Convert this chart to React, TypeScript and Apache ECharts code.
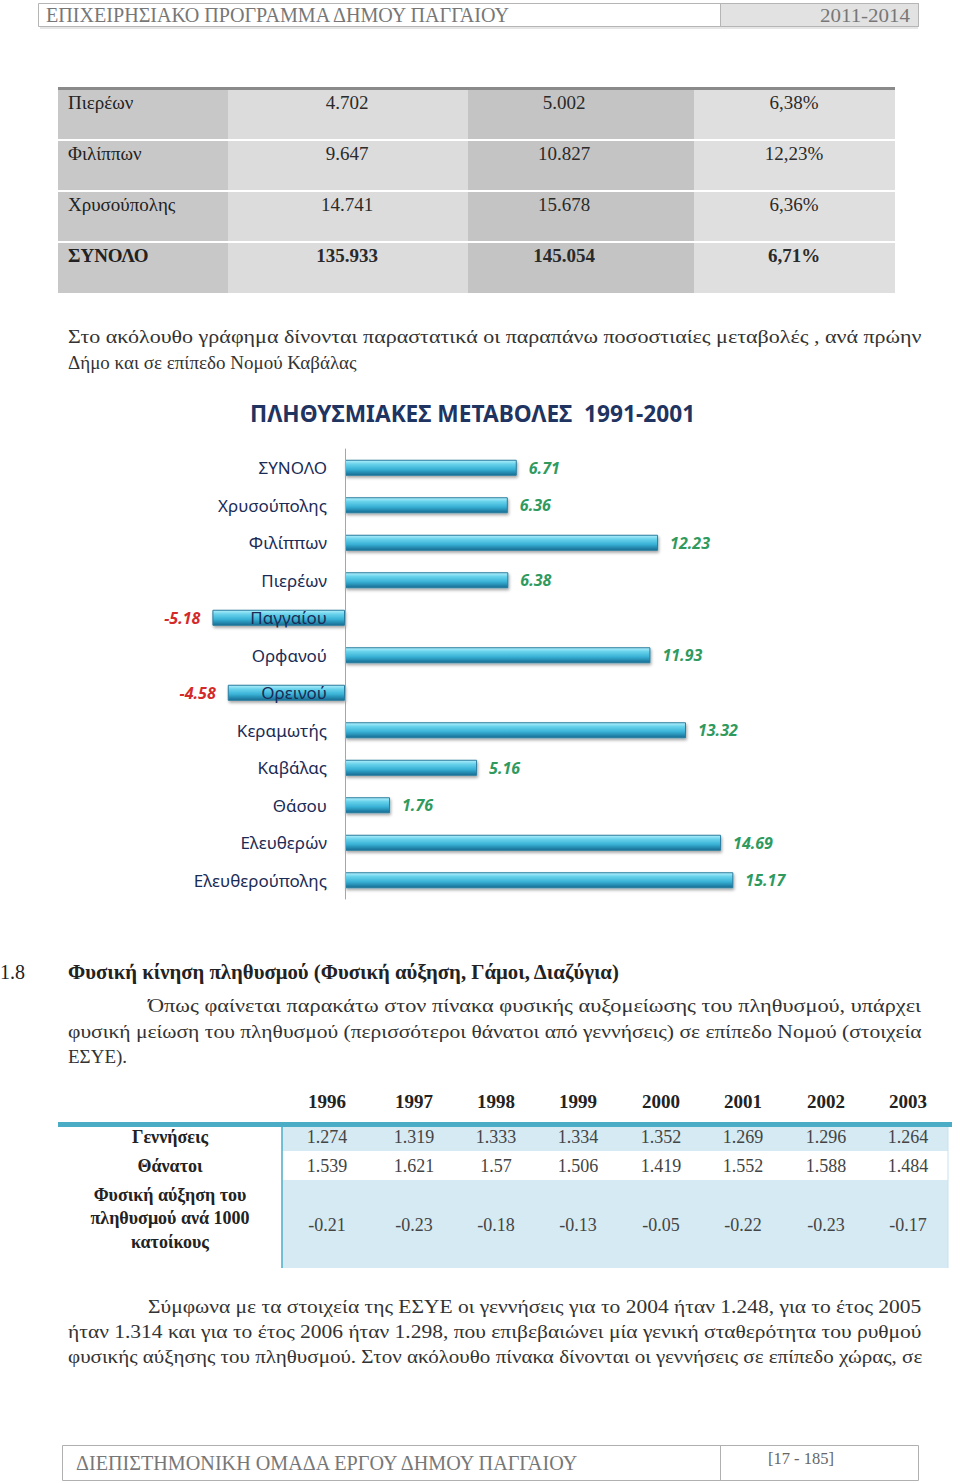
import React, { useEffect, useRef } from 'react';
import * as echarts from 'echarts';

// ---------- DATA ----------
const headerLeft = 'ΕΠΙΧΕΙΡΗΣΙΑΚΟ ΠΡΟΓΡΑΜΜΑ ΔΗΜΟΥ ΠΑΓΓΑΙΟΥ';
const headerRight = '2011-2014';
const footerLeft = 'ΔΙΕΠΙΣΤΗΜΟΝΙΚΗ ΟΜΑΔΑ ΕΡΓΟΥ ΔΗΜΟΥ ΠΑΓΓΑΙΟΥ';
const footerRight = '[17 - 185]';

const topNames = ['Πιερέων', 'Φιλίππων', 'Χρυσούπολης', 'ΣΥΝΟΛΟ'];
const topPop1991 = ['4.702', '9.647', '14.741', '135.933'];
const topPop2001 = ['5.002', '10.827', '15.678', '145.054'];
const topChange = ['6,38%', '12,23%', '6,36%', '6,71%'];

const para1 = [
  'Στο ακόλουθο γράφημα δίνονται παραστατικά οι παραπάνω ποσοστιαίες μεταβολές , ανά πρώην',
  'Δήμο και σε επίπεδο Νομού Καβάλας',
];

const chartTitle = 'ΠΛΗΘΥΣΜΙΑΚΕΣ ΜΕΤΑΒΟΛΕΣ  1991-2001';
const categories = [
  'ΣΥΝΟΛΟ', 'Χρυσούπολης', 'Φιλίππων', 'Πιερέων', 'Παγγαίου', 'Ορφανού',
  'Ορεινού', 'Κεραμωτής', 'Καβάλας', 'Θάσου', 'Ελευθερών', 'Ελευθερούπολης',
];
const changes = [6.71, 6.36, 12.23, 6.38, -5.18, 11.93, -4.58, 13.32, 5.16, 1.76, 14.69, 15.17];

const sectionNo = '1.8';
const sectionTitle = 'Φυσική κίνηση πληθυσμού (Φυσική αύξηση, Γάμοι, Διαζύγια)';
const para2 = [
  'Όπως φαίνεται παρακάτω στον πίνακα φυσικής αυξομείωσης του πληθυσμού, υπάρχει',
  'φυσική μείωση του πληθυσμού (περισσότεροι θάνατοι από γεννήσεις) σε επίπεδο Νομού (στοιχεία',
  'ΕΣΥΕ).',
];

const years = ['1996', '1997', '1998', '1999', '2000', '2001', '2002', '2003'];
const births = ['1.274', '1.319', '1.333', '1.334', '1.352', '1.269', '1.296', '1.264'];
const deaths = ['1.539', '1.621', '1.57', '1.506', '1.419', '1.552', '1.588', '1.484'];
const growth = ['-0.21', '-0.23', '-0.18', '-0.13', '-0.05', '-0.22', '-0.23', '-0.17'];
const rowLabels = ['Γεννήσεις', 'Θάνατοι'];
const growthLabel = ['Φυσική αύξηση του', 'πληθυσμού ανά 1000', 'κατοίκους'];

const para3 = [
  'Σύμφωνα με τα στοιχεία της ΕΣΥΕ οι γεννήσεις για το 2004 ήταν 1.248, για το έτος 2005',
  'ήταν 1.314 και για το έτος 2006 ήταν 1.298, που επιβεβαιώνει μία γενική σταθερότητα του ρυθμού',
  'φυσικής αύξησης του πληθυσμού. Στον ακόλουθο πίνακα δίνονται οι γεννήσεις σε επίπεδο χώρας, σε',
];

// ---------- HELPERS ----------
const SERIF = '"Liberation Serif", "DejaVu Serif", serif';
const SANS = '"Noto Sans", "Open Sans", sans-serif';
let mctx: CanvasRenderingContext2D | null = null;
function measure(text: string, font: string): number {
  if (!mctx) mctx = document.createElement('canvas').getContext('2d');
  if (!mctx) return text.length * 8;
  mctx.font = font;
  return mctx.measureText(text).width;
}
function T(x: number, y: number, text: string, font: string, fill: string, align = 'left', fitWidth?: number) {
  const el: any = {
    type: 'text', x, y, silent: true, z: 10,
    style: { text, font, fill, align, verticalAlign: 'middle' },
  };
  if (fitWidth) {
    const w = measure(text, font);
    if (w > 0) el.scaleX = fitWidth / w;
  }
  return el;
}
function R(x: number, y: number, w: number, h: number, fill: string, stroke?: string, lw = 1) {
  return {
    type: 'rect', silent: true, z: 1,
    shape: { x, y, width: w, height: h },
    style: stroke ? { fill, stroke, lineWidth: lw } : { fill },
  };
}
function L(x1: number, y1: number, x2: number, y2: number, stroke: string, lw = 1) {
  return { type: 'line', silent: true, z: 2, shape: { x1, y1, x2, y2 }, style: { stroke, lineWidth: lw } };
}

function buildGraphics() {
  const g: any[] = [];
  const body = `19px ${SERIF}`;
  const bodyFill = '#333333';

  // header
  g.push(R(38.5, 3.5, 880, 23, '#ffffff', '#b5b5b5'));
  g.push(R(720.5, 3.5, 198, 23, '#e2e2e2', '#b5b5b5'));
  g.push(L(40, 28, 918, 28, '#e6e6e6', 2));
  g.push(T(46, 15, headerLeft, `20px ${SERIF}`, '#777777', 'left', 466));
  g.push(T(910, 15, headerRight, `19px ${SERIF}`, '#777777', 'right', 90));

  // top table
  const cx = [58, 228, 468, 694, 895];
  const colFill = ['#c8c8c8', '#dcdcdc', '#c4c4c4', '#dfdfdf'];
  const rowTop = [90, 141, 192, 243];
  g.push(R(58, 87, 837, 3, '#8a8a8a'));
  rowTop.forEach((ry, r) => {
    for (let c = 0; c < 4; c++) g.push(R(cx[c], ry, cx[c + 1] - cx[c], r === 3 ? 50 : 49, colFill[c]));
    const bold = r === 3 ? 'bold ' : '';
    const f = `${bold}19px ${SERIF}`;
    const ty = ry + 12;
    g.push(T(68, ty, topNames[r], f, '#222', 'left'));
    g.push(T(347, ty, topPop1991[r], f, '#2a2a2a', 'center'));
    g.push(T(564, ty, topPop2001[r], f, '#2a2a2a', 'center'));
    g.push(T(794, ty, topChange[r], f, '#2a2a2a', 'center'));
  });

  // paragraph 1
  g.push(T(68, 337, para1[0], body, bodyFill, 'left', 854));
  g.push(T(68, 362, para1[1], body, bodyFill, 'left'));

  // section heading
  g.push(T(0, 972, sectionNo, `20px ${SERIF}`, '#222', 'left'));
  g.push(T(68, 972, sectionTitle, `bold 20px ${SERIF}`, '#222', 'left', 552));

  // paragraph 2
  g.push(T(148, 1006, para2[0], body, bodyFill, 'left', 774));
  g.push(T(68, 1031, para2[1], body, bodyFill, 'left', 854));
  g.push(T(68, 1056, para2[2], body, bodyFill, 'left'));

  // bottom table
  const yc = [327, 414, 496, 578, 661, 743, 826, 908];
  years.forEach((y, i) => g.push(T(yc[i], 1101, y, `bold 19px ${SERIF}`, '#222', 'center')));
  g.push(R(58, 1122, 894, 5, '#4bacc6'));
  g.push(R(282, 1127, 666, 24, '#d5eaf2'));
  g.push(R(282, 1180, 666, 88, '#d5eaf2'));
  g.push(L(282, 1127, 282, 1268, '#4bacc6', 1.5));
  g.push(L(948, 1127, 948, 1268, '#c7e3ee', 1));
  const lf = `bold 18px ${SERIF}`;
  g.push(T(170, 1137, rowLabels[0], lf, '#222', 'center'));
  g.push(T(170, 1166, rowLabels[1], lf, '#222', 'center'));
  g.push(T(170, 1195, growthLabel[0], lf, '#222', 'center'));
  g.push(T(170, 1218, growthLabel[1], lf, '#222', 'center'));
  g.push(T(170, 1242, growthLabel[2], lf, '#222', 'center'));
  const vf = `18px ${SERIF}`;
  yc.forEach((x, i) => {
    g.push(T(x, 1137, births[i], vf, '#444', 'center'));
    g.push(T(x, 1166, deaths[i], vf, '#444', 'center'));
    g.push(T(x, 1225, growth[i], vf, '#444', 'center'));
  });

  // paragraph 3
  g.push(T(148, 1306, para3[0], body, bodyFill, 'left', 774));
  g.push(T(68, 1331, para3[1], body, bodyFill, 'left', 854));
  g.push(T(68, 1356, para3[2], body, bodyFill, 'left', 854));

  // footer
  g.push(R(62.5, 1445.5, 856, 35, 'rgba(0,0,0,0)', '#b0b0b0'));
  g.push(L(720.5, 1445, 720.5, 1480, '#b0b0b0', 1));
  g.push(T(76, 1463, footerLeft, `20px ${SERIF}`, '#777777', 'left', 505));
  g.push(T(768, 1458, footerRight, `17px ${SERIF}`, '#666666', 'left', 66));

  return g;
}

const GRID_LEFT = 191.4;
const AXIS_ZERO_X = 345;

export default function App() {
  const ref = useRef<HTMLDivElement>(null);
  useEffect(() => {
    if (!ref.current) return;
    const chart = echarts.init(ref.current, null, { renderer: 'svg' });
    const barGrad = new echarts.graphic.LinearGradient(0, 0, 0, 1, [
      { offset: 0, color: '#b4f0fb' },
      { offset: 0.25, color: '#6ad3ec' },
      { offset: 0.6, color: '#39b2d6' },
      { offset: 1, color: '#176c92' },
    ]);
    const option: any = {
      animation: false,
      backgroundColor: '#ffffff',
      title: {
        text: chartTitle,
        left: 245,
        top: 397,
        textStyle: { fontFamily: SANS, fontSize: 22.7, fontWeight: 'bold', color: '#1f3461' },
      },
      grid: { left: GRID_LEFT, width: 563.2, top: 449, height: 450 },
      xAxis: { type: 'value', min: -6, max: 16, show: false, splitLine: { show: false } },
      yAxis: {
        type: 'category',
        inverse: true,
        data: categories,
        z: 10,
        axisTick: { show: false },
        axisLine: { onZero: true, lineStyle: { color: '#a6a6a6', width: 1 } },
        axisLabel: {
          // labels sit right-aligned just left of the zero line
          margin: -(AXIS_ZERO_X - 18 - GRID_LEFT),
          fontFamily: SANS,
          fontSize: 17,
          color: '#1a2b55',
        },
      },
      series: [
        {
          type: 'bar',
          barWidth: 16,
          data: changes.map((v) => ({
            value: v,
            label: {
              show: true,
              position: v >= 0 ? 'right' : 'left',
              distance: 12,
              formatter: v.toFixed(2),
              color: v >= 0 ? '#2f9a5e' : '#d42a2a',
              fontStyle: 'italic',
              fontWeight: 'bold',
              fontSize: 16,
              fontFamily: SANS,
            },
          })),
          itemStyle: {
            color: barGrad,
            borderColor: '#2a7c9e',
            borderWidth: 1,
            shadowColor: 'rgba(0,0,0,0.35)',
            shadowBlur: 3,
            shadowOffsetY: 2,
            shadowOffsetX: 1,
          },
        },
      ],
      graphic: buildGraphics(),
    };
    chart.setOption(option);
    return () => chart.dispose();
  }, []);
  return (
    <div
      ref={ref}
      style={{ position: 'absolute', left: 0, top: 0, width: 960, height: 1483, background: '#fff' }}
    />
  );
}
